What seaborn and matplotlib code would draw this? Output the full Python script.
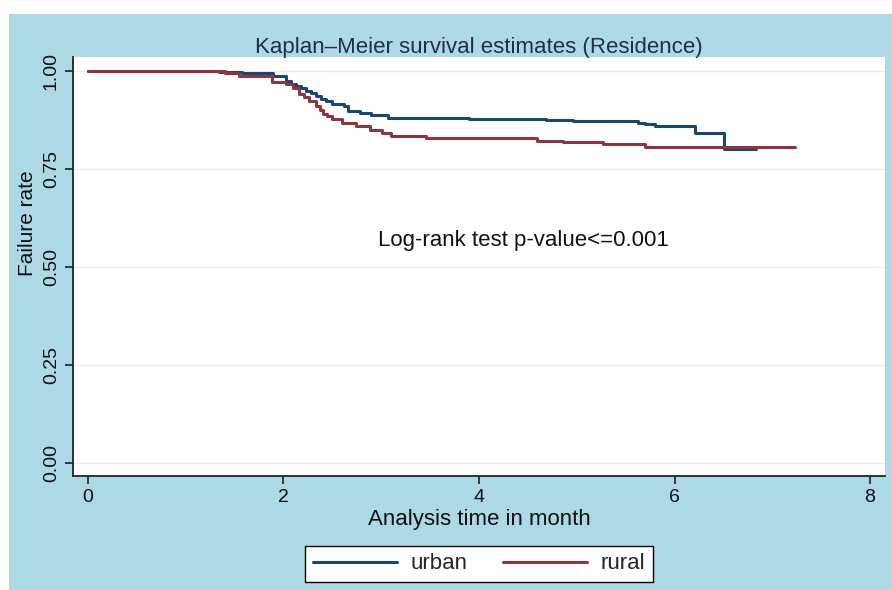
import numpy as np
import pandas as pd
import matplotlib.pyplot as plt
import seaborn as sns
from matplotlib.patches import Rectangle

# Kaplan-Meier step estimates
urban_time = [0, 1.34, 1.58, 1.89, 2.03, 2.08, 2.13, 2.18, 2.23, 2.28, 2.33, 2.38, 2.44, 2.50,
              2.62, 2.66, 2.78, 2.90, 3.07, 3.90, 4.69, 4.96, 5.63, 5.70, 5.80, 6.21, 6.51, 6.83]
urban_surv = [1.0, 0.998, 0.995, 0.986, 0.975, 0.967, 0.960, 0.955, 0.949, 0.942, 0.935, 0.928,
              0.922, 0.915, 0.911, 0.898, 0.893, 0.886, 0.879, 0.876, 0.874, 0.872, 0.867, 0.863,
              0.858, 0.841, 0.800, 0.800]

rural_time = [0, 1.40, 1.55, 1.88, 2.03, 2.10, 2.16, 2.21, 2.26, 2.33, 2.37, 2.40, 2.45, 2.50,
              2.60, 2.74, 2.88, 3.01, 3.10, 3.46, 4.59, 4.86, 5.27, 5.70, 7.23]
rural_surv = [1.0, 0.995, 0.987, 0.972, 0.966, 0.955, 0.941, 0.932, 0.924, 0.911, 0.900, 0.890,
              0.884, 0.878, 0.868, 0.860, 0.850, 0.842, 0.833, 0.829, 0.822, 0.818, 0.813, 0.805,
              0.805]

groups = ['urban', 'rural']
colors = {'urban': '#1a476f', 'rural': '#90353b'}
x_ticks = [0, 2, 4, 6, 8]
y_ticks = [0.00, 0.25, 0.50, 0.75, 1.00]

df = pd.concat([
    pd.DataFrame({'time': urban_time, 'surv': urban_surv, 'group': 'urban'}),
    pd.DataFrame({'time': rural_time, 'surv': rural_surv, 'group': 'rural'}),
], ignore_index=True)

sns.set_style('white')
plt.rcParams['font.family'] = ['Liberation Sans', 'DejaVu Sans']

fig = plt.figure(figsize=(8.92, 5.90), dpi=100, facecolor='white')
bg = '#add8e6'
fig.patches.append(Rectangle((9 / 892, 0), 1, 1 - 14 / 590, transform=fig.transFigure,
                             facecolor=bg, edgecolor='none', zorder=-10))

ax = fig.add_axes([73 / 892, 1 - 476 / 590, (885 - 73) / 892, (476 - 57) / 590])
ax.set_facecolor('white')

sns.lineplot(data=df, x='time', y='surv', hue='group', hue_order=groups, palette=colors,
             drawstyle='steps-post', estimator=None, sort=True, linewidth=2.2, ax=ax)

ax.set_xlim(-0.153, 8.153)
ax.set_ylim(-0.033, 1.035)
ax.set_xticks(x_ticks)
ax.set_xticklabels([str(t) for t in x_ticks], fontsize=14)
ax.set_yticks(y_ticks)
ax.set_yticklabels([f'{t:.2f}' for t in y_ticks], fontsize=14, rotation=90, va='center')
ax.tick_params(axis='both', direction='out', length=6, width=1.2, color='#222222',
               labelcolor='#111111', bottom=True, left=True)
ax.yaxis.grid(True, color='#e6eff1', linewidth=1)
ax.set_axisbelow(True)

for side in ['top', 'right']:
    ax.spines[side].set_visible(False)
for side in ['left', 'bottom']:
    ax.spines[side].set_color('#222222')
    ax.spines[side].set_linewidth(1.3)

ax.set_title('Kaplan–Meier survival estimates (Residence)', fontsize=16,
             color='#1f3044', pad=3)
ax.set_xlabel('Analysis time in month', fontsize=16, labelpad=2, color='#111111')
ax.set_ylabel('Failure rate', fontsize=15, color='#111111')
ax.yaxis.set_label_coords(-0.044, 0.604)

ax.text(2.97, 0.568, 'Log-rank test p-value<=0.001', fontsize=16, va='center', ha='left',
        color='#111111')

handles, labels = ax.get_legend_handles_labels()
leg = ax.legend(handles, labels, loc='center', bbox_to_anchor=(0.5, -0.21), ncol=2,
                frameon=True, fancybox=False, edgecolor='black', framealpha=1,
                fontsize=16, handlelength=3.8, handletextpad=0.6, columnspacing=1.6,
                borderpad=0.35)
leg.get_frame().set_linewidth(1.0)

fig.savefig('out.png', dpi=100, facecolor=fig.get_facecolor())
